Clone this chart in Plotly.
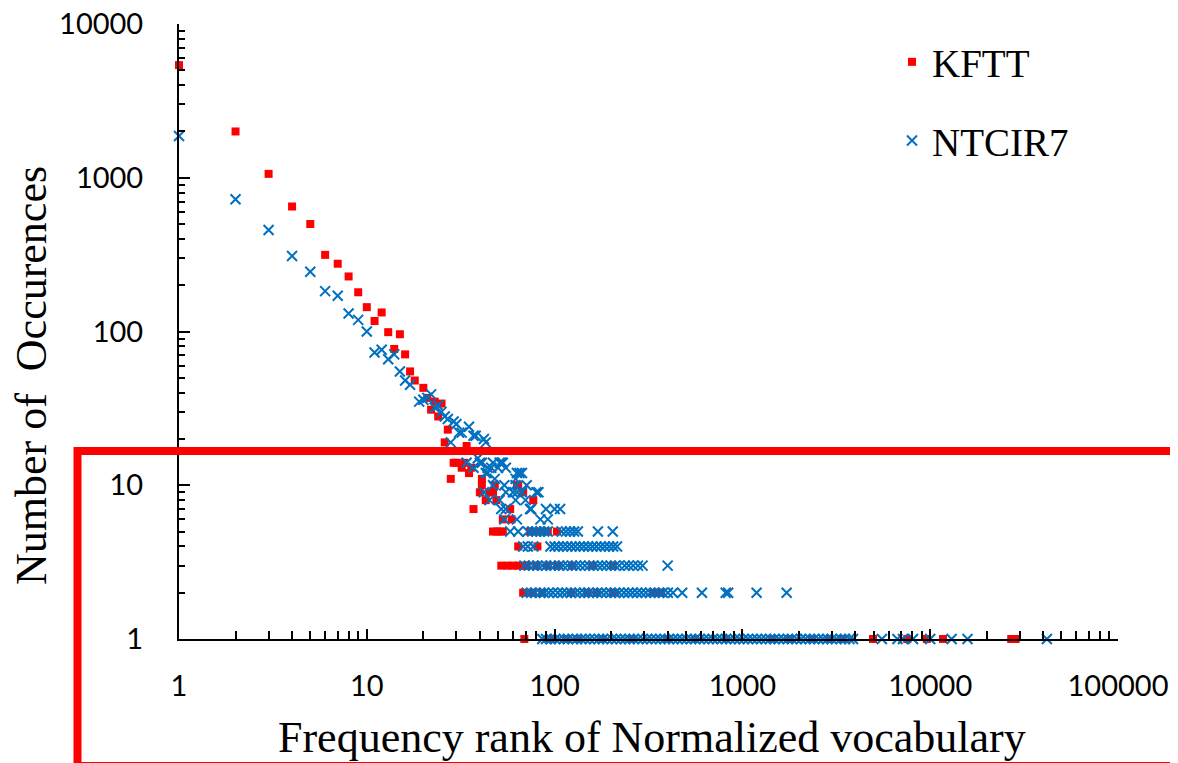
import plotly.graph_objects as go

# ---------------- DATA ----------------
# KFTT: individual points (rank, occurrences)
kftt_rank = [1, 2, 3, 4, 5, 6, 7, 8, 9, 10, 11, 12, 13, 14, 15, 16, 17, 18, 20, 21, 22, 23, 24, 25,
             26, 27, 28, 29, 30, 32, 33, 34, 35, 36, 37, 40, 41, 41, 43, 45, 47, 48, 49, 53, 58, 59,
             63, 64, 68, 77]
kftt_count = [5400, 2000, 1060, 650, 500, 315, 276, 228, 180, 144, 117, 133, 99, 77, 96, 71, 55, 48, 43, 37, 31, 35, 28, 34,
              19, 23, 11, 14, 14, 13, 14, 18, 12, 13, 7, 9, 10, 11, 8, 9, 9, 10, 8, 6, 7, 6,
              10, 10, 9, 8]
# KFTT: ranks of words seen exactly 5, 4, 3, 2 and 1 times
kftt_rank_c5 = [47, 49, 51, 53, 74, 80, 86, 92, 103]
kftt_rank_c4 = [64, 81]
kftt_rank_c3 = [52, 56, 60, 64, 68, 71, 80, 91, 104, 124, 159, 204]
kftt_rank_c2 = [68, 76, 86, 123, 150, 168, 204, 210, 335, 362, 370]
kftt_rank_c1 = [69, 92, 98, 116, 133, 180, 260, 400, 560, 820, 1450, 1770, 2350, 2900, 3400,
                4960, 7540, 9600, 11700, 27000, 28500]

# NTCIR7: individual points (rank, occurrences)
ntcir_rank = [1, 2, 3, 4, 5, 6, 7, 8, 9, 10, 11, 12, 13, 14, 15, 16, 17, 19, 20, 21, 22, 23, 24, 25,
              26, 27, 28, 29, 30, 31, 32, 35, 37, 38, 42, 43,
              34, 37, 39, 40, 41, 43, 44, 44, 46, 47, 48, 50, 51, 52, 53, 55, 62, 63, 65, 67,
              42, 47, 54, 62, 71, 55, 60, 63, 67, 80, 82, 45, 51, 62, 70,
              52, 55, 74, 75, 90, 100, 107, 54, 63, 84, 92]
ntcir_count = [1870, 724, 457, 310, 245, 183, 171, 131, 119, 100, 73, 76, 66, 71, 55, 48, 45, 35, 36, 37, 39, 32, 33, 30,
               28, 27, 19, 26, 25, 22, 22, 24, 21, 21, 20, 19,
               14, 13, 15, 14, 14, 12, 13, 12, 13, 14, 11, 13, 14, 14, 14, 13, 11, 12, 12, 12,
               9, 10, 10, 10, 10, 9, 9, 9, 9, 9, 9, 8, 8, 8, 8,
               7, 7, 7, 7, 7, 7, 7, 6, 6, 6, 6]
# NTCIR7: ranks of words seen exactly 5, 4, 3, 2 and 1 times
ntcir_rank_c5 = [58, 64, 72, 76, 80, 84, 88, 92, 109, 115, 121, 127, 133, 170, 204]
ntcir_rank_c4 = [68, 72, 77, 95, 100, 105, 111, 117, 123, 129, 136, 143, 151, 159, 167, 176, 185,
                 195, 205, 215]
ntcir_rank_c3 = [69, 73, 77, 81, 86, 90, 95, 100, 106, 111, 117, 124, 130, 137, 145, 153, 161, 170,
                 179, 189, 199, 210, 221, 236, 248, 262, 278, 294, 400]
ntcir_rank_c2 = [71, 75, 79, 84, 88, 93, 98, 104, 110, 116, 122, 129, 136, 144, 152, 160, 169, 178,
                 188, 199, 210, 221, 234, 247, 260, 275, 290, 306, 323, 341, 360, 377, 401, 427,
                 478, 609, 815, 840, 1190, 1720]
ntcir_rank_c1 = [86, 90, 95, 101, 106, 112, 118, 125, 131, 139, 146, 154, 163, 172, 181, 191, 202,
                 213, 225, 237, 250, 264, 279, 294, 311, 328, 346, 365, 385, 406, 429, 452, 477,
                 504, 532, 561, 592, 625, 660, 696, 735, 776, 819, 864, 912, 963, 1016, 1072, 1132,
                 1195, 1261, 1331, 1405, 1483, 1566, 1652, 1744, 1841, 1943, 2051, 2165, 2285,
                 2412, 2546, 2687, 2836, 2994, 3160, 3335, 3520, 3716, 3880, 5530, 6690, 7160,
                 8100, 10000, 13000, 15800, 41800]


def expand(ranks, counts, levels):
    xs = list(ranks)
    ys = list(counts)
    for lvl, rlist in levels:
        xs += rlist
        ys += [lvl] * len(rlist)
    return xs, ys


kx, ky = expand(kftt_rank, kftt_count,
                [(5, kftt_rank_c5), (4, kftt_rank_c4), (3, kftt_rank_c3), (2, kftt_rank_c2), (1, kftt_rank_c1)])
nx, ny = expand(ntcir_rank, ntcir_count,
                [(5, ntcir_rank_c5), (4, ntcir_rank_c4), (3, ntcir_rank_c3), (2, ntcir_rank_c2), (1, ntcir_rank_c1)])

# ---------------- FIGURE ----------------
OFF = 8                      # default page body margin
W, H = 1178 - OFF, 763 - OFF
L, T = 179 - OFF, 24 - OFF
PW, PH = 939, 615
R, B = W - L - PW, H - T - PH


def px_x(p):
    return (p - OFF - L) / PW


def px_y(p):
    return (T + PH - (p - OFF)) / PH


RED = "#FF0000"
BLUE = "#0070C0"

fig = go.Figure()
fig.add_trace(go.Scatter(
    x=kx, y=ky, mode="markers", name="KFTT", legendgroup="a",
    marker=dict(symbol="square", size=8, color=RED, line=dict(width=0)),
    cliponaxis=False,
))
fig.add_trace(go.Scatter(
    x=nx, y=ny, mode="markers", name="NTCIR7", legendgroup="b",
    marker=dict(symbol="x-thin", size=10, color=BLUE, line=dict(width=2, color=BLUE)),
    cliponaxis=False,
))

tick_font = dict(family="Lato, 'Open Sans', sans-serif", size=29, color="black")
serif = "'Liberation Serif', 'Times New Roman', serif"

common = dict(
    type="log", tickmode="linear", tick0=0, dtick=1, tickformat="d",
    showgrid=False, zeroline=False, showline=True, linecolor="black", linewidth=2,
    ticks="inside", tickwidth=2, tickcolor="black", automargin=False,
    tickfont=tick_font, ticklabeloverflow="allow",
)
fig.update_xaxes(
    range=[0, 5], ticklen=10, ticklabelstandoff=20,
    minor=dict(ticks="inside", dtick="D1", ticklen=8, tickwidth=1.5, tickcolor="black", showgrid=False),
    **common,
)
fig.update_yaxes(
    range=[0, 4], ticklen=11, ticklabelstandoff=28,
    minor=dict(ticks="inside", dtick="D1", ticklen=6, tickwidth=1.5, tickcolor="black", showgrid=False),
    **common,
)

fig.add_annotation(
    text="Frequency rank of Normalized vocabulary", xref="paper", yref="paper",
    x=px_x(652), y=px_y(737), xanchor="center", yanchor="middle", showarrow=False,
    font=dict(family=serif, size=44, color="black"),
)
fig.add_annotation(
    text="Number of \u00a0Occurences", xref="paper", yref="paper", textangle=-90,
    x=px_x(31), y=px_y(376), xanchor="center", yanchor="middle", showarrow=False,
    font=dict(family=serif, size=44, color="black"),
)

# red highlight frame
fig.add_shape(
    type="rect", xref="paper", yref="paper",
    x0=px_x(77.5), x1=px_x(1195), y0=px_y(451), y1=px_y(766),
    line=dict(color=RED, width=8), fillcolor="rgba(0,0,0,0)", layer="above",
)

fig.update_layout(
    width=W, height=H,
    margin=dict(l=L, r=R, t=T, b=B, pad=0, autoexpand=False),
    paper_bgcolor="white", plot_bgcolor="white",
    showlegend=True,
    legend=dict(
        x=px_x(892), y=px_y(30), xanchor="left", yanchor="top",
        font=dict(family=serif, size=39, color="black"),
        bgcolor="rgba(0,0,0,0)", borderwidth=0, tracegroupgap=25,
        itemsizing="trace",
    ),
)

fig.write_html("out.html")
